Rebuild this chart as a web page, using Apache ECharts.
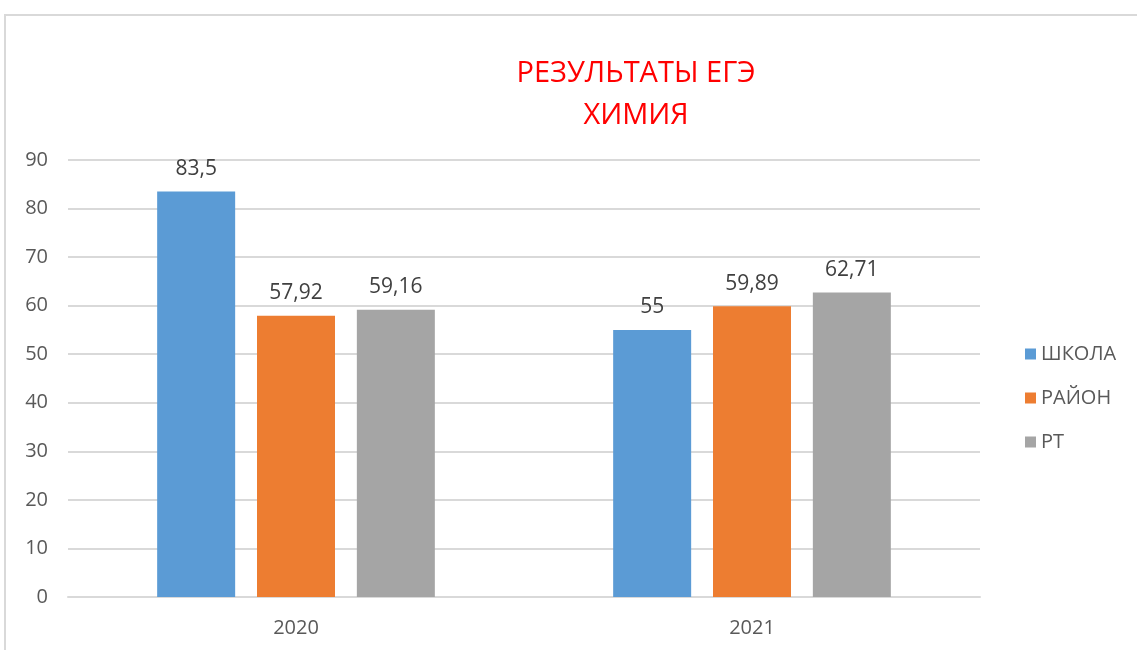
<!DOCTYPE html>
<html><head><meta charset="utf-8">
<script src="https://cdn.jsdelivr.net/npm/echarts@6/dist/echarts.min.js"></script>
<style>html,body{margin:0;padding:0;background:#fff}#c{width:1137px;height:650px}</style>
</head><body><div id="c"></div>
<script>
const titleLines = ['РЕЗУЛЬТАТЫ ЕГЭ', 'ХИМИЯ'];
const categories = ['2020', '2021'];
const seriesNames = ['ШКОЛА', 'РАЙОН', 'РТ'];
const school = [83.5, 55];
const district = [57.92, 59.89];
const republic = [59.16, 62.71];
const yTicks = [0, 10, 20, 30, 40, 50, 60, 70, 80, 90];

const colors = ['#5B9BD5', '#ED7D31', '#A5A5A5'];
const font = '"Open Sans", "Noto Sans", sans-serif';
const chart = echarts.init(document.getElementById('c'));
const fmt = p => String(p.value).replace('.', ',');
const mk = (name, data, i) => ({
  name, type: 'bar', data, barWidth: 78, barGap: '28%',
  itemStyle: { color: colors[i] },
  label: { show: true, position: 'top', distance: 12, formatter: fmt,
    color: '#404040', fontSize: 21, fontFamily: font }
});
chart.setOption({
  animation: false,
  title: { text: titleLines.join('\n'), left: 631, textAlign: 'center', top: 48,
    textStyle: { color: '#FF0000', fontSize: 29, fontWeight: 'normal', fontFamily: font, lineHeight: 42 } },
  graphic: [{ type: 'rect', shape: { x: 5, y: 15, width: 1300, height: 800 },
    style: { fill: 'none', stroke: '#d9d9d9', lineWidth: 2 }, silent: true }],
  legend: { orient: 'vertical', left: 1020, top: 339, itemGap: 24, itemWidth: 11, itemHeight: 11,
    icon: 'rect', data: seriesNames,
    textStyle: { color: '#595959', fontSize: 20, fontFamily: font } },
  grid: { left: 68, right: 157, top: 160, bottom: 53, containLabel: false },
  xAxis: { type: 'category', data: categories,
    axisLine: { lineStyle: { color: '#d9d9d9', width: 2 } }, axisTick: { show: false },
    axisLabel: { color: '#595959', fontSize: 20, fontFamily: font, margin: 21 } },
  yAxis: { type: 'value', min: 0, max: 90, interval: 10,
    axisLine: { show: false }, axisTick: { show: false },
    splitLine: { lineStyle: { color: '#d9d9d9', width: 2 } },
    axisLabel: { color: '#595959', fontSize: 20, fontFamily: font, margin: 20,
      formatter: v => yTicks.includes(v) ? String(v) : '' } },
  series: [mk(seriesNames[0], school, 0), mk(seriesNames[1], district, 1), mk(seriesNames[2], republic, 2)]
});
</script></body></html>
